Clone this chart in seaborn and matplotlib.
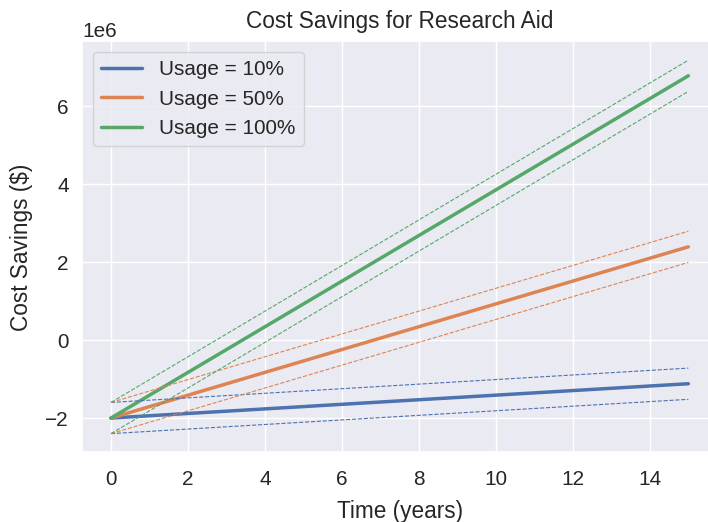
import matplotlib
matplotlib.use("Agg")
import matplotlib.pyplot as plt
import seaborn as sns
import pandas as pd

sns.set_theme(style="darkgrid", font_scale=1.36)
plt.rcParams["font.family"] = ["Liberation Sans", "DejaVu Sans"]

# Projection endpoints (start and end of the 15-year horizon)
years = [0, 15]
usage_labels = ["Usage = 10%", "Usage = 50%", "Usage = 100%"]
savings_10 = [-2.0e6, -1.12e6]
savings_50 = [-2.0e6, 2.39e6]
savings_100 = [-2.0e6, 6.775e6]
upper_10 = [-1.6e6, -0.72e6]
lower_10 = [-2.4e6, -1.52e6]
upper_50 = [-1.6e6, 2.79e6]
lower_50 = [-2.4e6, 1.99e6]
upper_100 = [-1.6e6, 7.175e6]
lower_100 = [-2.4e6, 6.375e6]

central = [savings_10, savings_50, savings_100]
uppers = [upper_10, upper_50, upper_100]
lowers = [lower_10, lower_50, lower_100]

rows = []
for label, mid, hi, lo in zip(usage_labels, central, uppers, lowers):
    for t, m, h, l in zip(years, mid, hi, lo):
        rows.append({"Time": t, "Usage": label, "mid": m, "hi": h, "lo": l})
df = pd.DataFrame(rows)

palette = dict(zip(usage_labels, sns.color_palette("deep", 3)))

fig, ax = plt.subplots(figsize=(7.08, 5.22), dpi=100)
sns.lineplot(data=df, x="Time", y="mid", hue="Usage", palette=palette,
             linewidth=2.5, ax=ax)
for label in usage_labels:
    sub = df[df["Usage"] == label]
    sns.lineplot(data=sub, x="Time", y="hi", color=palette[label],
                 linestyle="--", linewidth=0.8, ax=ax, legend=False)
    sns.lineplot(data=sub, x="Time", y="lo", color=palette[label],
                 linestyle="--", linewidth=0.8, ax=ax, legend=False)

ax.set_title("Cost Savings for Research Aid", pad=10)
ax.set_xlabel("Time (years)", labelpad=8)
ax.set_ylabel("Cost Savings ($)", labelpad=9)
ax.set_xticks(range(0, 16, 2))
ax.tick_params(axis="x", pad=6.5)
ax.legend(loc="upper left", title=None)

fig.subplots_adjust(left=0.116, right=1.013, top=0.9205, bottom=0.1335)
fig.savefig("out.png", dpi=100)
